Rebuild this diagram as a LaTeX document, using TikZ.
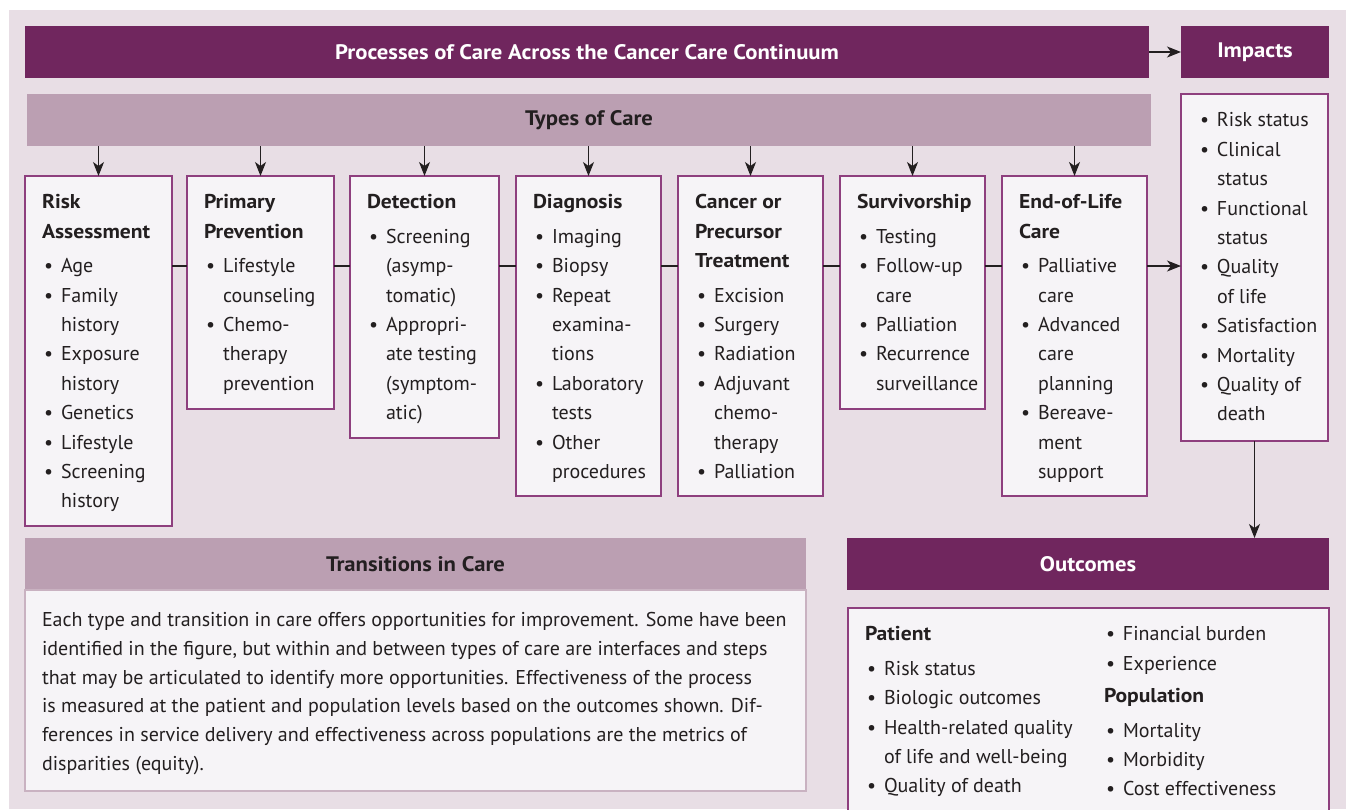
\documentclass[tikz,border=0pt]{standalone}
\usepackage{fontspec}
\setmainfont{PT Sans}[BoldFeatures={FakeStretch=1.08}]
\usetikzlibrary{arrows.meta}
\definecolor{dark}{HTML}{70265E}
\definecolor{mid}{HTML}{BB9FB2}
\definecolor{bgc}{HTML}{E8DEE5}
\definecolor{boxf}{HTML}{F6F4F7}
\definecolor{boxb}{HTML}{8E3F7E}
\definecolor{txt}{HTML}{231F20}
\definecolor{lightb}{HTML}{C9B2C1}
\newcommand{\bu}{\makebox[19pt][l]{\hspace{2pt}•}}
\newcommand{\ct}{\hspace*{19pt}}
\begin{document}
\begin{tikzpicture}[x=1pt,y=-1pt,
  every node/.style={inner sep=0pt, outer sep=0pt},
  darkbar/.style={fill=dark, text=white, font=\bfseries\fontsize{21}{24}\selectfont},
  midbar/.style={fill=mid, text=txt, font=\bfseries\fontsize{21}{24}\selectfont},
  box/.style={fill=boxf, draw=boxb, line width=1.2pt, anchor=north west},
  btext/.style={anchor=north west, align=left, text=txt, font=\fontsize{20}{29.4}\selectfont},
  arr/.style={-{Stealth[length=14pt,width=11pt,inset=4pt]}, line width=1.3pt, draw=txt},
  conn/.style={line width=1.2pt, draw=txt}]
\useasboundingbox (0,0) rectangle (1346,809);
\fill[bgc] (9,10) rectangle (1346,809);
% headers
\node[darkbar, minimum width=1124pt, minimum height=52pt, anchor=north west] (proc) at (25,26) {Processes of Care Across the Cancer Care Continuum};
\node[darkbar, minimum width=148pt, minimum height=52pt, anchor=north west] (imph) at (1181,26) {Impacts};
\node[midbar, minimum width=1124pt, minimum height=52pt, anchor=north west] (types) at (27,94) {Types of Care};
% boxes
\node[box, minimum width=147pt, minimum height=350pt] (risk) at (25,176) {};
\node[box, minimum width=147pt, minimum height=233pt] (prim) at (187,176) {};
\node[box, minimum width=149pt, minimum height=262pt] (det) at (350,176) {};
\node[box, minimum width=145pt, minimum height=320pt] (diag) at (516,176) {};
\node[box, minimum width=145pt, minimum height=320pt] (treat) at (678,176) {};
\node[box, minimum width=145pt, minimum height=233pt] (surv) at (840,176) {};
\node[box, minimum width=145pt, minimum height=320pt] (eol) at (1002,176) {};
\node[box, minimum width=147pt, minimum height=347pt] (imp) at (1181,94) {};
% box texts
\node[btext] (riskt) at (42,188.4) {\strut\textbf{Risk}\\\textbf{Assessment}\\[5pt]
\bu Age\\\bu Family\\\ct history\\\bu Exposure\\\ct history\\\bu Genetics\\\bu Lifestyle\\\bu Screening\\\ct history};
\node[btext] (primt) at (204,188.4) {\strut\textbf{Primary}\\\textbf{Prevention}\\[5pt]
\bu Lifestyle\\\ct counseling\\\bu Chemo-\\\ct therapy\\\ct prevention};
\node[btext] (dett) at (367,188.4) {\strut\textbf{Detection}\\[5pt]
\bu Screening\\\ct (asymp-\\\ct tomatic)\\\bu Appropri-\\\ct ate testing\\\ct (symptom-\\\ct atic)};
\node[btext] (diagt) at (533,188.4) {\strut\textbf{Diagnosis}\\[5pt]
\bu Imaging\\\bu Biopsy\\\bu Repeat\\\ct examina-\\\ct tions\\\bu Laboratory\\\ct tests\\\bu Other\\\ct procedures};
\node[btext] (treatt) at (695,188.4) {\strut\textbf{Cancer or}\\\textbf{Precursor}\\\textbf{Treatment}\\[5pt]
\bu Excision\\\bu Surgery\\\bu Radiation\\\bu Adjuvant\\\ct chemo-\\\ct therapy\\\bu Palliation};
\node[btext] (survt) at (857,188.4) {\strut\textbf{Survivorship}\\[5pt]
\bu Testing\\\bu Follow-up\\\ct care\\\bu Palliation\\\bu Recurrence\\\ct surveillance};
\node[btext] (eolt) at (1019,188.4) {\strut\textbf{End-of-Life}\\\textbf{Care}\\[5pt]
\bu Palliative\\\ct care\\\bu Advanced\\\ct care\\\ct planning\\\bu Bereave-\\\ct ment\\\ct support};
\node[btext] (impt) at (1198,106.4) {\strut\bu Risk status\\\bu Clinical\\\ct status\\\bu Functional\\\ct status\\\bu Quality\\\ct of life\\\bu Satisfaction\\\bu Mortality\\\bu Quality of\\\ct death};
% arrows from types bar
\foreach \b in {risk,prim,det,diag,treat,surv,eol}
  \draw[arr] (\b.north |- types.south) -- (\b.north);
% connectors
\coordinate (cy) at (0,266);
\draw[conn] (risk.east |- cy) -- (prim.west |- cy);
\draw[conn] (prim.east |- cy) -- (det.west |- cy);
\draw[conn] (det.east |- cy) -- (diag.west |- cy);
\draw[conn] (diag.east |- cy) -- (treat.west |- cy);
\draw[conn] (treat.east |- cy) -- (surv.west |- cy);
\draw[conn] (surv.east |- cy) -- (eol.west |- cy);
\draw[arr] (eol.east |- cy) -- (imp.west |- cy);
\draw[arr] (proc.east) -- (imph.west);
% transitions
\node[midbar, minimum width=781pt, minimum height=52pt, anchor=north west] (trh) at (25,538) {Transitions in Care};
\node[box, draw=lightb, minimum width=781pt, minimum height=201pt] (trb) at (25,590) {};
\node[btext, font=\fontsize{20}{28.7}\selectfont] (trt) at (42,606.5) {\strut Each type and transition in care offers opportunities for improvement. Some have been\\
identified in the figure, but within and between types of care are interfaces and steps\\
that may be articulated to identify more opportunities. Effectiveness of the process\\
is measured at the patient and population levels based on the outcomes shown. Dif-\\
ferences in service delivery and effectiveness across populations are the metrics of\\
disparities (equity).};
% outcomes
\node[darkbar, minimum width=482pt, minimum height=52pt, anchor=north west] (outh) at (847,538) {Outcomes};
\node[box, minimum width=481pt, minimum height=240pt] (outb) at (848,608) {};
\draw[arr] (imp.south) -- (imp.south |- outh.north);
\node[btext] (out1) at (865,620.4) {\strut\textbf{Patient}\\[5pt]
\bu Risk status\\\bu Biologic outcomes\\\bu Health-related quality\\\ct of life and well-being\\\bu Quality of death};
\node[btext] (out2) at (1104,620.4) {\strut\bu Financial burden\\\bu Experience\\[3pt]\textbf{Population}\\[5pt]
\bu Mortality\\\bu Morbidity\\\bu Cost effectiveness};
\end{tikzpicture}
\end{document}
